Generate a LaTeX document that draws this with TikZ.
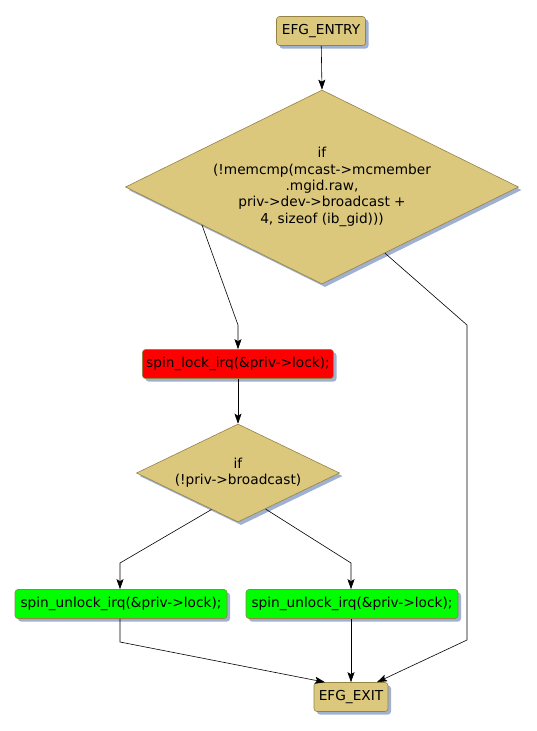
\documentclass[tikz,border=0pt]{standalone}
\usepackage{fontspec}
\setmainfont{DejaVu Sans}
\usetikzlibrary{positioning,arrows.meta,calc,shapes.geometric,shadows}
\definecolor{nodetan}{RGB}{219,200,125}
\definecolor{nodeedge}{RGB}{150,130,70}
\definecolor{shadowblue}{RGB}{160,176,208}
\definecolor{lockred}{RGB}{255,0,0}
\definecolor{unlockgreen}{RGB}{0,255,0}

\begin{document}
\begin{tikzpicture}[
  x=1pt,y=-1pt,>={Stealth[length=10pt,width=7pt,inset=2pt]},
  font=\fontsize{13.7}{16.3}\selectfont,
  flowbox/.style={draw=nodeedge,fill=nodetan,rounded corners=3pt,
    minimum height=29pt,inner xsep=2pt,inner ysep=0pt,line width=.6pt,
    drop shadow={shadow xshift=3pt,shadow yshift=-3pt,fill=shadowblue,opacity=1}},
  decision/.style={diamond,draw=nodeedge,fill=nodetan,align=center,
    inner sep=0pt,line width=.6pt,
    drop shadow={shadow xshift=3pt,shadow yshift=-3pt,fill=shadowblue,opacity=1}},
  flowline/.style={black,line width=.6pt}
]
\useasboundingbox (0,0) rectangle (537,731);
% nodes, placed at their pixel positions
\node[flowbox,minimum width=89pt] (entry) at (321,31) {EFG\_ENTRY};
\node[decision,aspect=2.03,minimum width=393pt,minimum height=194pt] (cond1) at (322,187)
  {if\\(!memcmp(mcast->mcmember\\.mgid.raw,\\priv->dev->broadcast +\\4, sizeof (ib\_gid)))};
\node[flowbox,fill=lockred,minimum width=191pt] (lock) at (238,364) {spin\_lock\_irq(\&priv->lock);};
\node[decision,aspect=2.07,minimum width=203pt,minimum height=98pt] (cond2) at (238,473)
  {if\\(!priv->broadcast)};
\node[flowbox,fill=unlockgreen,minimum width=212pt] (unlockl) at (121,604) {spin\_unlock\_irq(\&priv->lock);};
\node[flowbox,fill=unlockgreen,minimum width=212pt] (unlockr) at (352,604) {spin\_unlock\_irq(\&priv->lock);};
\node[flowbox,minimum width=74pt] (exit) at (351,697) {EFG\_EXIT};

% bend points
\coordinate (b1) at (238,325);
\coordinate (b2) at (467,325);
\coordinate (b3) at (467,640);
\coordinate (b4) at (120,563);
\coordinate (b5) at (351,563);
\coordinate (b6) at (120,642);

% connectors
\draw[flowline,->] (entry) -- (cond1.north);
\draw[flowline,->] ($(cond1.west)!.39!(cond1.south)$) -- (b1) -- (lock.north);
\draw[flowline,->] ($(cond1.south)!.32!(cond1.east)$) -- (b2) -- (b3) -- ($(exit.north)+(26,0)$);
\draw[flowline,->] (lock) -- (cond2.north);
\draw[flowline,->] ($(cond2.west)!.74!(cond2.south)$) -- (b4) -- (unlockl.north -| b4);
\draw[flowline,->] ($(cond2.south)!.27!(cond2.east)$) -- (b5) -- (unlockr.north -| b5);
\draw[flowline,->] (unlockl.south -| b6) -- (b6) -- ($(exit.north)+(-26,0)$);
\draw[flowline,->] (unlockr.south -| exit) -- (exit.north);
\end{tikzpicture}
\end{document}
